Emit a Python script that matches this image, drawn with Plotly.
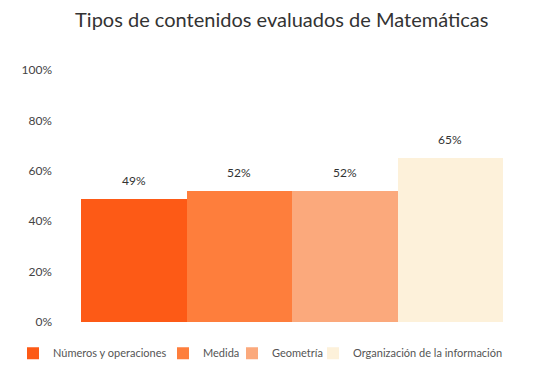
import plotly.graph_objects as go

series_names = ["Números y operaciones", "Medida", "Geometría", "Organización de la información"]
values = [49, 52, 52, 65]
colors = ["#FD5A16", "#FE7E3C", "#FBA97C", "#FDF1DA"]
y_ticks = [0, 20, 40, 60, 80, 100]
y_tick_labels = ["0%", "20%", "40%", "60%", "80%", "100%"]
legend_x = [25, 175, 244, 325]  # legend anchor positions (px in figure container)

font_family = "Lato, 'Noto Sans', sans-serif"
W, H = 552, 377

fig = go.Figure()
legend_ids = ["legend", "legend2", "legend3", "legend4"]
for name, val, col, lid in zip(series_names, values, colors, legend_ids):
    fig.add_trace(go.Bar(
        x=[name], y=[val], name=name, legend=lid,
        marker=dict(color=col, line=dict(width=0)),
    ))
    fig.add_annotation(x=name, y=val, text=f"{val}%", showarrow=False,
                       yanchor="bottom", yshift=9,
                       font=dict(size=12, color="#333333", family=font_family))

layout_legends = {}
for lid, lx in zip(legend_ids, legend_x):
    layout_legends[lid] = dict(
        orientation="h", xref="container", yref="container",
        x=(lx - 20) / W, xanchor="left", y=0.123, yanchor="top",
        font=dict(size=11, color="#555555", family=font_family),
        itemwidth=30, bgcolor="rgba(0,0,0,0)",
    )

fig.update_layout(
    width=W, height=H,
    paper_bgcolor="white", plot_bgcolor="white",
    margin=dict(l=73, r=57, t=62, b=63, autoexpand=False),
    barmode="relative", bargap=0,
    title=dict(text="Tipos de contenidos evaluados de Matemáticas",
               x=0.496, xanchor="center", y=0.968, yanchor="middle",
               font=dict(size=20, color="#333333", family=font_family)),
    xaxis=dict(showticklabels=False, showgrid=False, zeroline=False, showline=False),
    yaxis=dict(range=[0, 100], tickvals=y_ticks, ticktext=y_tick_labels,
               showgrid=False, zeroline=False, showline=False,
               tickfont=dict(size=12, color="#444444", family=font_family),
               ticklabelstandoff=28),
    showlegend=True,
    **layout_legends,
)

fig.write_html("out.html")
